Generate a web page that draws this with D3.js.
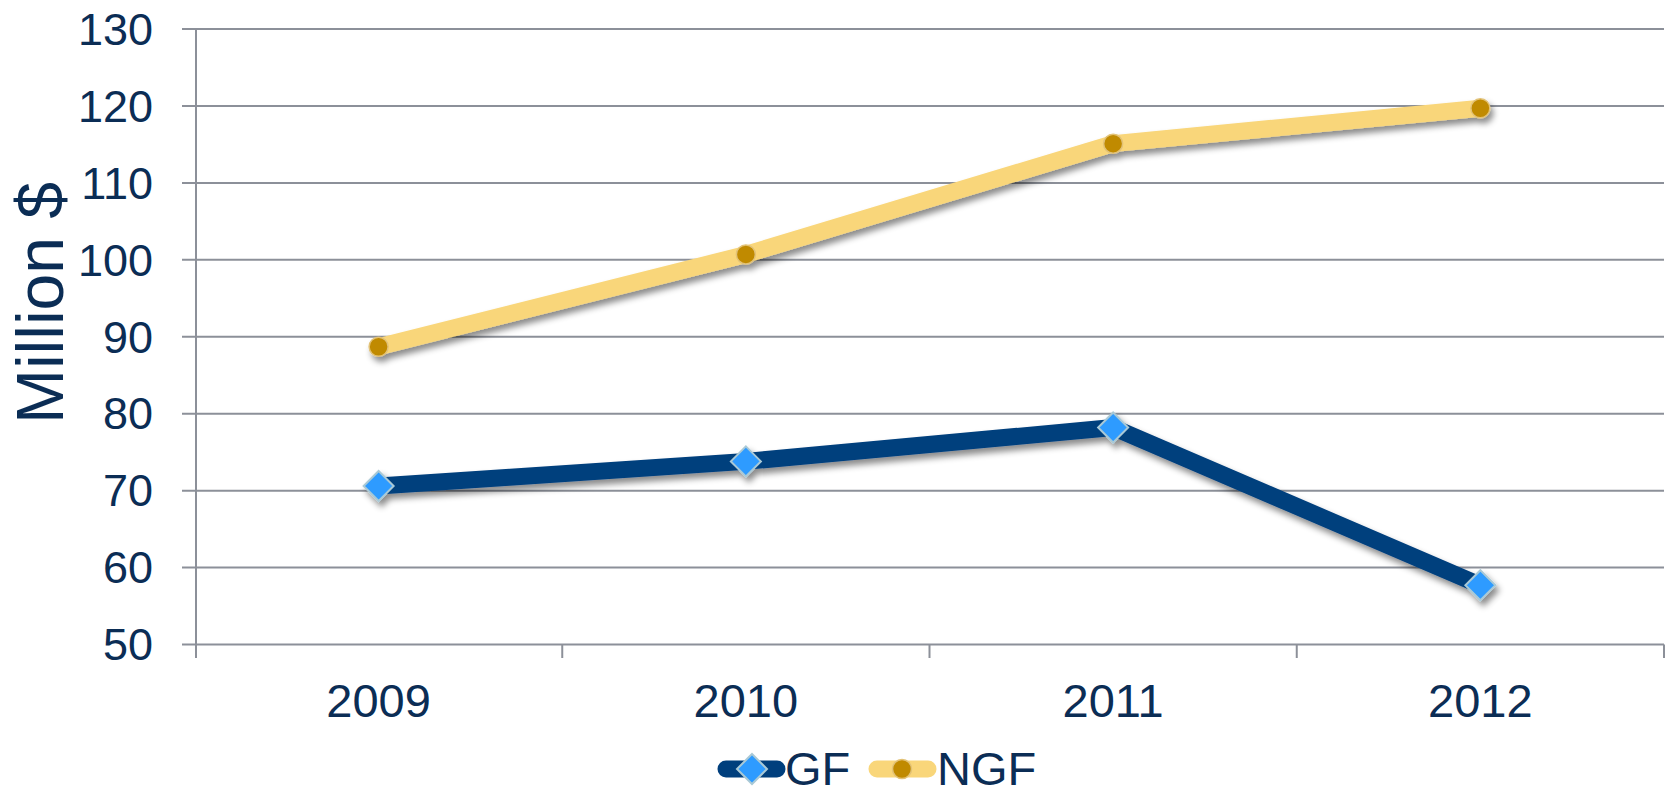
<!DOCTYPE html>
<html>
<head>
<meta charset="utf-8">
<script src="https://cdn.jsdelivr.net/npm/d3@7"></script>
<style>
  body { margin: 0; background: #fff; }
  svg text { font-family: "Liberation Sans", Arial, sans-serif; fill: #0b2d55; }
</style>
</head>
<body>
<div id="chart"></div>
<script>
var years = ["2009", "2010", "2011", "2012"];
var gfValues = [70.6, 73.8, 78.2, 57.7];
var ngfValues = [88.7, 100.7, 115.1, 119.7];
var yTicks = [50, 60, 70, 80, 90, 100, 110, 120, 130];

var width = 1669, height = 788;
var svg = d3.select("#chart").append("svg")
    .attr("width", width).attr("height", height);

var defs = svg.append("defs");
var f = defs.append("filter").attr("id", "shadow")
    .attr("x", "-20%").attr("y", "-20%").attr("width", "140%").attr("height", "160%");
f.append("feDropShadow").attr("dx", 3).attr("dy", 5).attr("stdDeviation", 3)
    .attr("flood-color", "#000").attr("flood-opacity", 0.45);

var x = d3.scaleBand().domain(years).range([195, 1664]);
var y = d3.scaleLinear().domain([50, 130]).range([644.5, 29]);

// gridlines
svg.append("g").selectAll("line")
  .data(yTicks).enter().append("line")
    .attr("x1", 182).attr("x2", 1664)
    .attr("y1", function(d) { return y(d); })
    .attr("y2", function(d) { return y(d); })
    .attr("stroke", "#8c9099").attr("stroke-width", 2);

// y axis line
svg.append("line").attr("x1", 196).attr("x2", 196).attr("y1", 29).attr("y2", 658)
  .attr("stroke", "#8c9099").attr("stroke-width", 2);

// category ticks
var bounds = years.map(function(d) { return x(d); }).concat([x.range()[1]]);
svg.append("g").selectAll("line")
  .data(bounds.slice(1)).enter().append("line")
    .attr("x1", function(d) { return d; }).attr("x2", function(d) { return d; })
    .attr("y1", 644.5).attr("y2", 658)
    .attr("stroke", "#8c9099").attr("stroke-width", 2);

// y labels
svg.append("g").selectAll("text")
  .data(yTicks).enter().append("text")
    .attr("x", 153).attr("y", function(d) { return y(d); })
    .attr("dy", "0.35em").attr("text-anchor", "end")
    .style("font-size", "45px")
    .text(function(d) { return d; });

// x labels
svg.append("g").selectAll("text")
  .data(years).enter().append("text")
    .attr("x", function(d) { return x(d) + x.bandwidth() / 2; })
    .attr("y", 717).attr("text-anchor", "middle")
    .style("font-size", "47px")
    .text(function(d) { return d; });

// axis title
svg.append("text")
  .attr("transform", "translate(63,303) rotate(-90)")
  .attr("text-anchor", "middle")
  .style("font-size", "66px")
  .text("Million $");

var line = d3.line()
  .x(function(d, i) { return x(years[i]) + x.bandwidth() / 2; })
  .y(function(d) { return y(d); });

function drawSeries(vals, color, marker) {
  var g = svg.append("g").attr("filter", "url(#shadow)");
  g.append("path").datum(vals)
    .attr("d", line).attr("fill", "none")
    .attr("stroke", color).attr("stroke-width", 17)
    .attr("stroke-linejoin", "round");
  vals.forEach(function(v, i) {
    var cx = x(years[i]) + x.bandwidth() / 2, cy = y(v);
    marker(g, cx, cy);
  });
}

function diamond(g, cx, cy) {
  g.append("path")
    .attr("d", "M" + cx + "," + (cy - 15) + "L" + (cx + 15) + "," + cy + "L" + cx + "," + (cy + 15) + "L" + (cx - 15) + "," + cy + "Z")
    .attr("fill", "#2e9bff").attr("stroke", "#a9c9d6").attr("stroke-width", 2);
}
function dot(g, cx, cy) {
  g.append("circle").attr("cx", cx).attr("cy", cy).attr("r", 9.5)
    .attr("fill", "#c08a00").attr("stroke", "#e2c277").attr("stroke-width", 1.5);
}

drawSeries(ngfValues, "#f9d67a", dot);
drawSeries(gfValues, "#003f7d", diamond);

// legend
var legend = svg.append("g");
legend.append("line").attr("x1", 726).attr("x2", 777).attr("y1", 769).attr("y2", 769)
  .attr("stroke", "#003f7d").attr("stroke-width", 17).attr("stroke-linecap", "round");
diamond(legend, 752, 769);
legend.append("text").attr("x", 785).attr("y", 785).style("font-size", "47px").text("GF");
legend.append("line").attr("x1", 877).attr("x2", 928).attr("y1", 769).attr("y2", 769)
  .attr("stroke", "#f9d67a").attr("stroke-width", 17).attr("stroke-linecap", "round");
dot(legend, 902, 769);
legend.append("text").attr("x", 937).attr("y", 785).style("font-size", "47px").text("NGF");
</script>
</body>
</html>
